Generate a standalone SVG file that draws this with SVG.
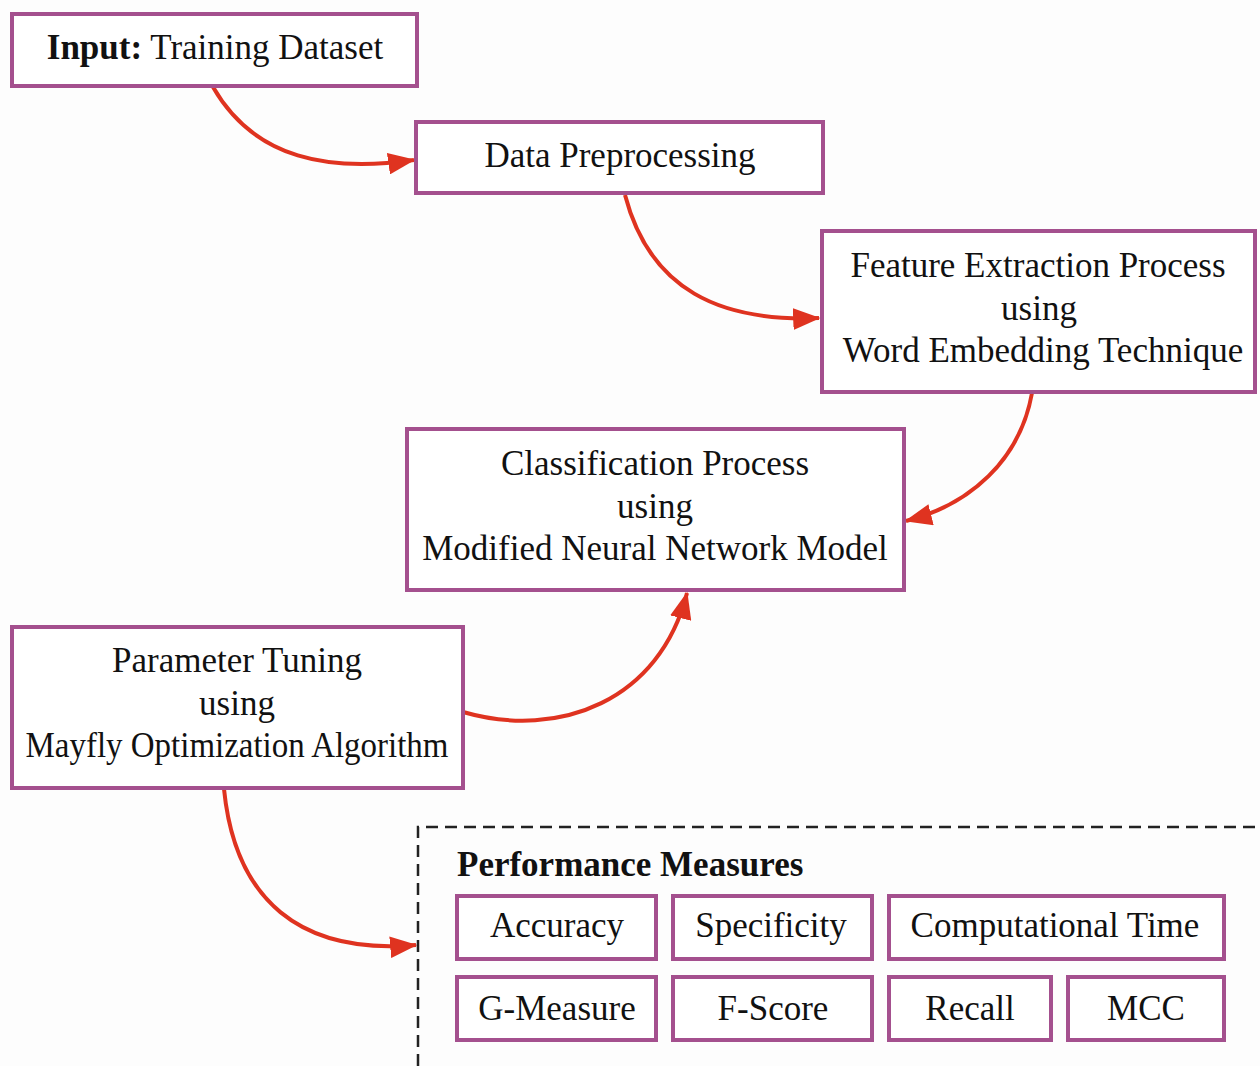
<svg xmlns="http://www.w3.org/2000/svg" width="1260" height="1066" viewBox="0 0 1260 1066">
<defs>
<style>
.box{fill:#fff;stroke:#a4508e;stroke-width:4}
.t{font-family:"Liberation Serif","Times New Roman",serif;font-size:35px;fill:#111;text-anchor:middle}
.b{font-weight:bold}
.c{fill:none;stroke:#df3320;stroke-width:4}
.dash{fill:none;stroke:#222;stroke-width:2.5;stroke-dasharray:12 7}
</style>
<marker id="ah" viewBox="0 0 10 8" refX="9.5" refY="4" markerWidth="6.8" markerHeight="5.5" markerUnits="strokeWidth" orient="auto">
<path d="M0,0 L10,4 L0,8 z" fill="#df3320"/>
</marker>
</defs>
<rect width="1260" height="1066" fill="#fdfdfd"/>
<g id="connectors">
<path class="c" d="M213,87 C255,160 330,172 414,160" marker-end="url(#ah)"/>
<path class="c" d="M625,195 C650,290 720,322 819,318" marker-end="url(#ah)"/>
<path class="c" d="M1032,393 C1020,460 970,505 906,521" marker-end="url(#ah)"/>
<path class="c" d="M463,712 C560,740 660,700 687,593" marker-end="url(#ah)"/>
<path class="c" d="M224,789 C235,900 300,955 416,945" marker-end="url(#ah)"/>
</g>
<g id="input">
<rect class="box" x="12" y="14" width="405" height="72"/>
<text class="t" x="215" y="59"><tspan class="b">Input:</tspan> Training Dataset</text>
</g>
<g id="preprocessing">
<rect class="box" x="416" y="122" width="407" height="71"/>
<text class="t" x="620" y="167">Data Preprocessing</text>
</g>
<g id="feature">
<rect class="box" x="822" y="231" width="433" height="161"/>
<text class="t" x="1038" y="277">Feature Extraction Process</text>
<text class="t" x="1039" y="320">using</text>
<text class="t" x="1043" y="362">Word Embedding Technique</text>
</g>
<g id="classification">
<rect class="box" x="407" y="429" width="497" height="161"/>
<text class="t" x="655" y="475">Classification Process</text>
<text class="t" x="655" y="518">using</text>
<text class="t" x="655" y="560">Modified Neural Network Model</text>
</g>
<g id="tuning">
<rect class="box" x="12" y="627" width="451" height="161"/>
<text class="t" x="237" y="672">Parameter Tuning</text>
<text class="t" x="237" y="715">using</text>
<text class="t" x="237" y="757" textLength="423" lengthAdjust="spacingAndGlyphs">Mayfly Optimization Algorithm</text>
</g>
<g id="performance">
<path class="dash" d="M418,1066 V827 H1262"/>
<text class="t b" x="457" y="876" style="text-anchor:start">Performance Measures</text>
<g id="accuracy"><rect class="box" x="457" y="896" width="199" height="63"/><text class="t" x="557" y="937">Accuracy</text></g>
<g id="specificity"><rect class="box" x="673" y="896" width="199" height="63"/><text class="t" x="771" y="937">Specificity</text></g>
<g id="comptime"><rect class="box" x="889" y="896" width="335" height="63"/><text class="t" x="1055" y="937">Computational Time</text></g>
<g id="gmeasure"><rect class="box" x="457" y="977" width="199" height="63"/><text class="t" x="557" y="1020">G-Measure</text></g>
<g id="fscore"><rect class="box" x="673" y="977" width="199" height="63"/><text class="t" x="773" y="1020">F-Score</text></g>
<g id="recall"><rect class="box" x="889" y="977" width="162" height="63"/><text class="t" x="970" y="1020">Recall</text></g>
<g id="mcc"><rect class="box" x="1068" y="977" width="156" height="63"/><text class="t" x="1146" y="1020">MCC</text></g>
</g>
</svg>
